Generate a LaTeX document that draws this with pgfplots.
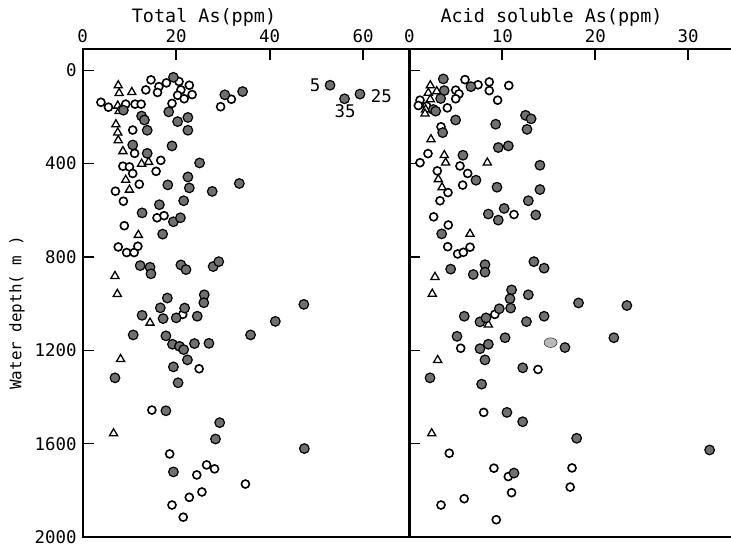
\documentclass[border=0pt]{standalone}
\usepackage{fontspec}
\setmainfont{DejaVu Sans Mono}
\usepackage{pgfplots}
\pgfplotsset{compat=1.18}
\definecolor{dotgray}{RGB}{112,112,112}

\pgfplotsset{
  depthpanel/.style={
    scale only axis, height=487.7bp,
    y dir=reverse, ymin=-90, ymax=2000,
    ytick={0,400,...,2000},
    xtick pos=right, xticklabel pos=right, ytick pos=left,
    tick align=inside, major tick length=11bp,
    every tick/.style={black, line width=1.6bp},
    axis line style={-, line width=1.8bp},
    /pgf/number format/assume math mode=true,
    /pgf/number format/1000 sep={},
    tick label style={font=\fontsize{17.5}{18}\selectfont, inner sep=0pt},
    xticklabel style={yshift=6bp}, yticklabel style={xshift=-6bp},
    clip=false,
  },
  open/.style={only marks, mark=*, mark size=4bp, mark options={line width=1.6bp, fill=white, draw=black}},
  tri/.style={only marks, mark=triangle*, mark size=4.7bp, mark options={line width=1.3bp, fill=white, draw=black}},
  dot/.style={only marks, mark=*, mark size=4.8bp, mark options={line width=1.2bp, draw=black, fill=dotgray}},
}

\begin{document}
\begin{tikzpicture}
\useasboundingbox (0,0) rectangle (731bp,548bp);

% Total As
\begin{axis}[depthpanel, at={(82.7bp,11bp)}, anchor=south west, width=327.3bp,
  xmin=0, xmax=70, xtick={0,20,40,60}]
\addplot[open] coordinates {
(14.6,41) (13.5,84) (16.3,70) (16.0,95) (17.9,54) (20.6,48) (22.8,64) (21.0,84)
(20.3,107) (21.7,122) (23.4,104) (19.1,142) (31.8,124) (29.5,156) (3.9,137) (5.5,158)
(9.2,145) (11.2,145) (12.5,145) (10.7,256) (11.1,356) (8.6,411) (10.0,414) (10.7,442)
(16.7,386) (15.7,433) (12.1,488) (7.0,518) (8.7,561) (15.9,632) (17.4,623) (8.9,666)
(7.6,757) (9.4,781) (11.0,781) (11.8,754) (21.4,1046) (24.9,1279) (14.8,1456)
(18.6,1644) (24.4,1734) (26.5,1691) (28.2,1708) (34.8,1773) (25.5,1807) (22.8,1830)
(19.1,1863) (21.5,1915)
};
\addplot[tri] coordinates {
(7.6,65) (7.8,98) (10.5,94) (7.5,152) (7.8,175) (7.1,232) (7.5,267) (7.6,300)
(8.6,347) (12.6,401) (14.1,393) (9.2,470) (10.0,512) (11.9,706) (6.9,882) (7.4,959)
(14.4,1082) (8.1,1238) (6.6,1556)
};
\addplot[dot] coordinates {
(19.4,30) (30.4,105) (34.2,91) (8.7,171) (12.6,196) (13.2,213) (18.4,178) (20.3,220)
(22.5,202) (22.5,257) (13.8,257) (10.7,320) (19.1,324) (13.8,356) (25.0,397) (22.5,457)
(22.8,504) (18.2,491) (27.7,519) (33.5,485) (21.6,559) (16.4,576) (12.7,611) (19.4,649)
(20.9,632) (17.1,702) (12.3,837) (14.4,844) (14.6,872) (21.0,834) (22.1,854) (27.9,841)
(29.1,820) (18.1,976) (26.0,962) (25.9,996) (16.6,1018) (21.8,1019) (12.7,1050)
(17.2,1064) (20.0,1061) (24.5,1054) (41.2,1076) (35.9,1134) (47.3,1003) (10.8,1134)
(17.8,1138) (19.2,1174) (20.7,1183) (21.6,1197) (23.9,1171) (27.0,1170) (22.4,1241)
(19.4,1271) (6.9,1318) (20.4,1339) (17.8,1459) (29.3,1510) (28.4,1580) (47.4,1621)
(19.4,1721) (52.9,64) (56.0,122) (59.3,102)
};
\node[font=\fontsize{17.5}{18}\selectfont] at (axis cs:49.7,66) {5};
\node[font=\fontsize{17.5}{18}\selectfont] at (axis cs:63.9,110) {25};
\node[font=\fontsize{17.5}{18}\selectfont] at (axis cs:56.1,175) {35};
\end{axis}

% Acid soluble As
\begin{axis}[depthpanel, at={(409.3bp,11bp)}, anchor=south west, width=321.7bp,
  xmin=0, xmax=34.6, xtick={0,10,20,30}, yticklabels={},
  axis y line*=left, axis x line*=box]
\addplot[open] coordinates {
(5.99,40) (7.39,62) (8.6,50) (8.6,87) (10.7,65) (9.5,128) (4.99,85) (5.34,101)
(4.99,122) (1.15,128) (0.97,151) (1.87,154) (4.09,161) (3.41,242) (2.01,357) (1.15,396)
(5.45,410) (6.28,442) (3.01,431) (5.74,492) (4.16,524) (3.3,559) (11.26,618) (2.62,628)
(4.19,663) (4.13,756) (5.2,787) (5.81,780) (6.53,758) (9.2,1046) (5.53,1191)
(13.84,1282) (8.0,1466) (4.3,1641) (9.1,1705) (10.65,1741) (17.5,1704) (17.3,1786)
(11.0,1810) (5.9,1836) (3.41,1863) (9.35,1926)
};
\addplot[tri] coordinates {
(2.26,65) (2.04,97) (2.95,90) (2.26,125) (1.76,168) (1.69,186) (2.33,296) (3.76,364)
(3.91,396) (8.39,396) (3.12,467) (3.52,502) (6.53,701) (2.76,886) (2.47,958) (8.5,1090)
(3.05,1242) (2.41,1556)
};
\addplot[dot] coordinates {
(3.66,37) (6.63,70) (3.76,87) (3.37,121) (2.58,168) (2.84,175) (4.98,213) (9.29,231)
(12.5,193) (13.1,208) (12.66,253) (3.59,267) (9.57,331) (10.65,324) (5.77,364)
(14.05,407) (7.17,471) (9.43,501) (14.05,511) (12.8,559) (10.2,592) (13.6,620) (8.5,616)
(9.57,642) (3.48,701) (4.45,852) (6.88,875) (8.14,833) (8.14,865) (13.4,820) (14.5,848)
(11.0,941) (10.83,979) (10.9,1019) (12.8,962) (18.2,997) (23.4,1008) (9.68,1022)
(5.91,1054) (14.5,1054) (12.6,1077) (7.6,1078) (8.25,1061) (5.13,1140) (10.3,1146)
(22.0,1146) (16.74,1188) (7.6,1193) (8.5,1174) (8.14,1241) (12.2,1275) (2.23,1318)
(7.78,1345) (10.5,1466) (12.19,1506) (18.0,1577) (32.3,1627) (11.26,1726)
};
\addplot[only marks, mark=*, mark size=4.8bp, mark options={draw=none, fill=gray!55, xscale=1.35}] coordinates {(15.2,1167)};
\end{axis}

\node[anchor=base, font=\fontsize{18.5}{20}\selectfont] at (204bp,525bp) {Total As(ppm)};
\node[anchor=base, font=\fontsize{18.5}{20}\selectfont] at (551.5bp,525bp) {Acid soluble As(ppm)};
\node[rotate=90, font=\fontsize{16}{18}\selectfont] at (17bp,235bp) {Water depth( m )};
\end{tikzpicture}
\end{document}
